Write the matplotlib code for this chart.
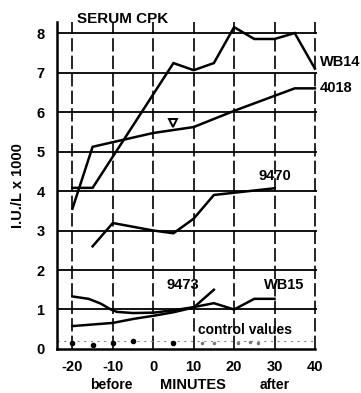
import matplotlib
matplotlib.use("Agg")
import matplotlib.pyplot as plt

plt.rcParams['font.family'] = ['Liberation Sans', 'DejaVu Sans']
plt.rcParams['font.weight'] = 'bold'

# Data (minutes, I.U./L x 1000)
wb14_x = [-20, -15, 5, 10, 15, 20, 25, 30, 35, 40]
wb14_y = [4.08, 4.08, 7.24, 7.06, 7.24, 8.15, 7.85, 7.85, 8.0, 7.1]

s4018_x = [-20, -15, 0, 10, 20, 35, 40]
s4018_y = [3.55, 5.12, 5.47, 5.62, 6.03, 6.6, 6.6]

s9470_x = [-15, -10, 0, 5, 10, 15, 30]
s9470_y = [2.6, 3.19, 3.0, 2.93, 3.3, 3.9, 4.07]

wb15_x = [-20, -16, -13, -10.5, -9, -5, 0, 5, 10, 15, 20, 25, 30]
wb15_y = [1.33, 1.27, 1.15, 1.0, 0.94, 0.91, 0.92, 0.98, 1.06, 1.16, 1.0, 1.27, 1.27]

s9473_x = [-20, -10, -5, 0, 5, 10, 15]
s9473_y = [0.58, 0.66, 0.76, 0.84, 0.93, 1.05, 1.5]

ctrl_x = [-20, -15, -10, -5, 5]
ctrl_y = [0.15, 0.1, 0.15, 0.2, 0.15]
ctrl_faint_x = [12, 15, 21, 24, 26]
ctrl_faint_y = [0.15, 0.15, 0.15, 0.17, 0.15]

marker_x = [5]
marker_y = [5.72]

xticks = [-20, -10, 0, 10, 20, 30, 40]
yticks = [0, 1, 2, 3, 4, 5, 6, 7, 8]

fig = plt.figure(figsize=(3.61, 3.93), dpi=100)
ax = fig.add_axes([0.158, 0.112, 0.72, 0.832])
ax.set_xlim(-23.8, 40.5)
ax.set_ylim(0, 8.28)

for y in yticks[1:]:
    ax.axhline(y, color='black', lw=1.3, zorder=1)
for x in xticks:
    ax.axvline(x, color='black', lw=1.2, ls=(0, (8, 2.5)), zorder=1)

ax.plot([-23.8, 40], [0.2, 0.2], color='#888888', lw=0.8, ls=(0, (2, 4)), zorder=1)

lw = 1.8
for xs, ys in [(wb14_x, wb14_y), (s4018_x, s4018_y), (s9470_x, s9470_y),
               (wb15_x, wb15_y), (s9473_x, s9473_y)]:
    ax.plot(xs, ys, color='black', lw=lw, zorder=3, solid_joinstyle='miter')

ax.plot(ctrl_x, ctrl_y, 'o', color='black', ms=3, zorder=3)
ax.plot(ctrl_faint_x, ctrl_faint_y, 'o', color='#777777', ms=1.5, zorder=3)
ax.plot(marker_x, marker_y, marker='v', ms=6, mfc='white', mec='black', mew=1.4, ls='none', zorder=4)

for s in ['top', 'right']:
    ax.spines[s].set_visible(False)
ax.spines['left'].set_linewidth(1.8)
ax.spines['bottom'].set_linewidth(1.8)
ax.spines['bottom'].set_bounds(-23.8, 40)

ax.set_xticks(xticks)
ax.set_xticklabels([str(v) for v in xticks], fontsize=10.5, fontweight='bold')
ax.set_yticks(yticks)
ax.set_yticklabels([str(v) for v in yticks], fontsize=10.5, fontweight='bold')
ax.tick_params(axis='both', length=0)
ax.tick_params(axis='x', pad=8)
ax.tick_params(axis='y', pad=9)

ax.set_ylabel('I.U./L x 1000', fontsize=10.5, fontweight='bold', labelpad=8)

ax.text(-18.9, 8.35, 'SERUM CPK', fontsize=11, fontweight='bold', ha='left', va='center', clip_on=False)
ax.text(41.3, 7.27, 'WB14', fontsize=10.5, fontweight='bold', ha='left', va='center', clip_on=False)
ax.text(41.3, 6.6, '4018', fontsize=10.5, fontweight='bold', ha='left', va='center', clip_on=False)
ax.text(30, 4.38, '9470', fontsize=10.5, fontweight='bold', ha='center', va='center')
ax.text(7.4, 1.62, '9473', fontsize=10.5, fontweight='bold', ha='center', va='center')
ax.text(32.3, 1.62, 'WB15', fontsize=10.5, fontweight='bold', ha='center', va='center')
ax.text(22.8, 0.48, 'control values', fontsize=10, fontweight='bold', ha='center', va='center')

ax.text(-10.4, -0.9, 'before', fontsize=10, fontweight='bold', ha='center', va='center', clip_on=False)
ax.text(9.8, -0.9, 'MINUTES', fontsize=10.5, fontweight='bold', ha='center', va='center', clip_on=False)
ax.text(30, -0.9, 'after', fontsize=10, fontweight='bold', ha='center', va='center', clip_on=False)

fig.savefig('out.png', dpi=100)
